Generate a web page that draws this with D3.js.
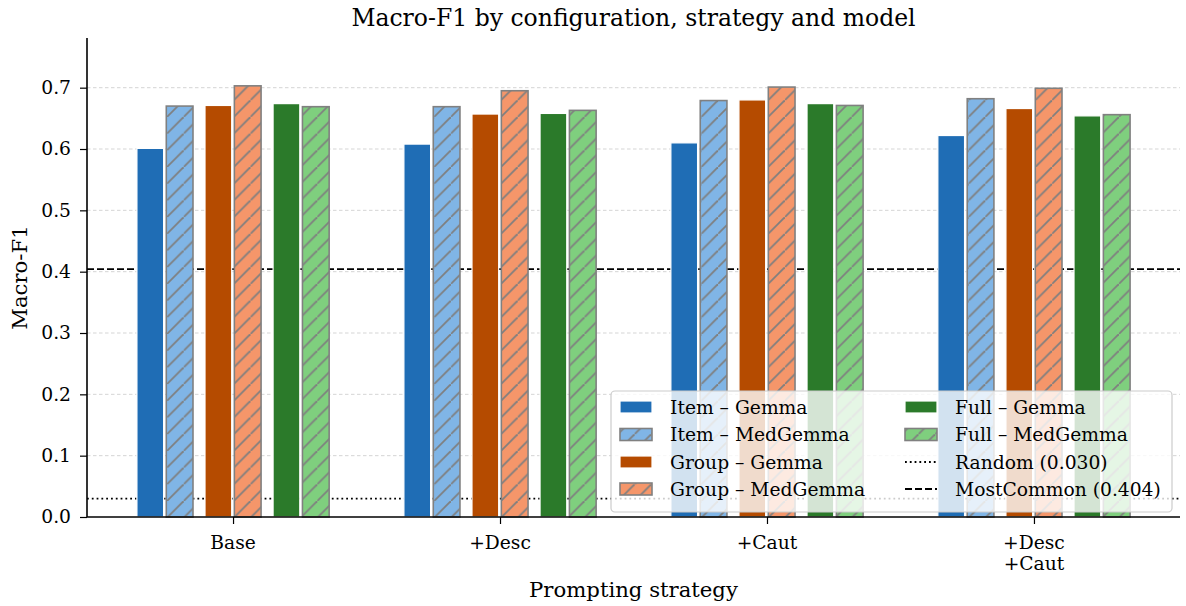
<!DOCTYPE html>
<html>
<head>
<meta charset="utf-8">
<script src="https://cdn.jsdelivr.net/npm/d3@7"></script>
<style>
  body { margin: 0; background: #fff; }
  svg text { font-family: "DejaVu Serif", serif; fill: #000; }
</style>
</head>
<body>
<svg id="chart" width="1186" height="606"></svg>
<script>
const strategies = ["Base", "+Desc", "+Caut", "+Desc\n+Caut"];
const seriesNames = ["Item – Gemma", "Item – MedGemma", "Group – Gemma", "Group – MedGemma", "Full – Gemma", "Full – MedGemma"];
const itemGemma     = [0.601, 0.608, 0.610, 0.622];
const itemMedGemma  = [0.670, 0.669, 0.679, 0.682];
const groupGemma    = [0.671, 0.657, 0.680, 0.666];
const groupMedGemma = [0.703, 0.695, 0.701, 0.699];
const fullGemma     = [0.674, 0.658, 0.674, 0.654];
const fullMedGemma  = [0.669, 0.663, 0.671, 0.656];
const randomBaseline = 0.030;
const mostCommonBaseline = 0.404;
const yTicks = [0.0, 0.1, 0.2, 0.3, 0.4, 0.5, 0.6, 0.7];

const series = [itemGemma, itemMedGemma, groupGemma, groupMedGemma, fullGemma, fullMedGemma];
const colors = ["#1f6db5", "#80b5e6", "#b54b00", "#f5966a", "#2b7a2a", "#7fcf7e"];
const hatched = [false, true, false, true, false, true];
const offsets = [-0.31, -0.20, -0.055, 0.055, 0.20, 0.31];
const barW = 0.1;

const svg = d3.select("#chart");
const mLeft = 87, mRight = 1180, mTop = 38, mBottom = 517;
const x = d3.scaleLinear().domain([-0.547, 3.547]).range([mLeft, mRight]);
const y = d3.scaleLinear().domain([0, 0.781]).range([mBottom, mTop]);

// hatch patterns
const defs = svg.append("defs");
const hs = 16.7;
colors.forEach((c, i) => {
  if (!hatched[i]) return;
  const p = defs.append("pattern").attr("id", "hatch" + i)
    .attr("patternUnits", "userSpaceOnUse").attr("width", hs).attr("height", hs);
  p.append("rect").attr("width", hs).attr("height", hs).attr("fill", c);
  [[-1, hs + 1, hs + 1, -1], [-hs - 1, 1, 1, -hs - 1], [hs - 1, 2 * hs + 1, 2 * hs + 1, hs - 1]].forEach(l => {
    p.append("line").attr("x1", l[0]).attr("y1", l[1]).attr("x2", l[2]).attr("y2", l[3])
      .attr("stroke", "#7f7f7f").attr("stroke-width", 1.8);
  });
});

// grid
svg.append("g").selectAll("line").data(yTicks.filter(t => t > 0)).join("line")
  .attr("x1", mLeft).attr("x2", mRight).attr("y1", d => y(d)).attr("y2", d => y(d))
  .attr("stroke", "#d0d0d0").attr("stroke-width", 0.9).attr("stroke-dasharray", "3.5,2.5");

// baselines
svg.append("line").attr("x1", mLeft).attr("x2", mRight)
  .attr("y1", y(randomBaseline)).attr("y2", y(randomBaseline))
  .attr("stroke", "#000").attr("stroke-width", 1.8).attr("stroke-dasharray", "1.8,3");
svg.append("line").attr("x1", mLeft).attr("x2", mRight)
  .attr("y1", y(mostCommonBaseline)).attr("y2", y(mostCommonBaseline))
  .attr("stroke", "#000").attr("stroke-width", 1.8).attr("stroke-dasharray", "7,3");

// bars
series.forEach((vals, si) => {
  svg.append("g").selectAll("rect").data(vals).join("rect")
    .attr("x", (d, i) => x(i + offsets[si] - barW / 2))
    .attr("width", x(barW) - x(0))
    .attr("y", d => y(d))
    .attr("height", d => y(0) - y(d))
    .attr("fill", hatched[si] ? `url(#hatch${si})` : colors[si])
    .attr("stroke", hatched[si] ? "#808080" : "#ffffff")
    .attr("stroke-width", hatched[si] ? 1.6 : 1.2);
});

// axes
const yAxis = d3.axisLeft(y).tickValues(yTicks).tickFormat(d3.format(".1f")).tickSizeOuter(0).tickSize(7).tickPadding(9);
const gy = svg.append("g").attr("transform", `translate(${mLeft},0)`).call(yAxis);
gy.select(".domain").attr("stroke-width", 1.6).attr("d", `M0,${mTop}V${mBottom}`);
gy.selectAll(".tick line").attr("stroke-width", 1.2);
gy.selectAll("text").style("font-size", "18.7px").style("font-family", "DejaVu Serif");

const xAxis = d3.axisBottom(x).tickValues(strategies.map((d, i) => i)).tickFormat("").tickSizeOuter(0).tickSize(7);
const gx = svg.append("g").attr("transform", `translate(0,${mBottom})`).call(xAxis);
gx.select(".domain").attr("stroke-width", 1.6).attr("d", `M${mLeft},0H${mRight}`);
gx.selectAll(".tick line").attr("stroke-width", 1.2);
strategies.forEach((s, i) => {
  const t = svg.append("text").attr("x", x(i)).attr("y", 549).attr("text-anchor", "middle").style("font-size", "18.7px");
  s.split("\n").forEach((line, j) => {
    t.append("tspan").attr("x", x(i)).attr("dy", j === 0 ? 0 : 20.5).text(line);
  });
});

// labels
svg.append("text").attr("x", (mLeft + mRight) / 2).attr("y", 26).attr("text-anchor", "middle")
  .style("font-size", "23.5px").text("Macro-F1 by configuration, strategy and model");
svg.append("text").attr("x", (mLeft + mRight) / 2).attr("y", 597).attr("text-anchor", "middle")
  .style("font-size", "21.2px").text("Prompting strategy");
svg.append("text").attr("transform", `translate(27,${(mTop + mBottom) / 2}) rotate(-90)`).attr("text-anchor", "middle")
  .style("font-size", "21.2px").text("Macro-F1");

// legend
const lg = svg.append("g");
lg.append("rect").attr("x", 611).attr("y", 391).attr("width", 561).attr("height", 121).attr("rx", 4)
  .attr("fill", "#fff").attr("fill-opacity", 0.8).attr("stroke", "#cccccc").attr("stroke-width", 1.2);
const legendItems = seriesNames.map((n, i) => ({name: n, type: "bar", idx: i}))
  .concat([{name: `Random (${randomBaseline.toFixed(3)})`, type: "dot"}, {name: `MostCommon (${mostCommonBaseline.toFixed(3)})`, type: "dash"}]);
const rowY = [407, 434.5, 462, 489];
legendItems.forEach((it, k) => {
  const col = k < 4 ? 0 : 1;
  const row = k % 4;
  const px = col === 0 ? 620 : 905;
  const cy = rowY[row];
  if (it.type === "bar") {
    const i = it.idx;
    lg.append("rect").attr("x", px).attr("y", cy - 6).attr("width", 32).attr("height", 12)
      .attr("fill", hatched[i] ? `url(#hatch${i})` : colors[i])
      .attr("stroke", hatched[i] ? "#808080" : "#fff").attr("stroke-width", hatched[i] ? 1.6 : 1.2);
  } else {
    lg.append("line").attr("x1", px).attr("x2", px + 32).attr("y1", cy).attr("y2", cy)
      .attr("stroke", "#000").attr("stroke-width", 1.8)
      .attr("stroke-dasharray", it.type === "dot" ? "1.8,3" : "7,3");
  }
  lg.append("text").attr("x", px + 50).attr("y", cy + 6.5).style("font-size", "18.7px").text(it.name);
});
</script>
</body>
</html>
